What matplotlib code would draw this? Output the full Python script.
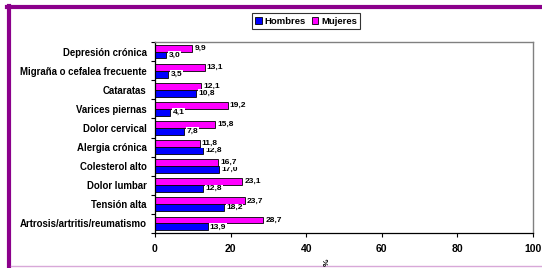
import numpy as np
import matplotlib.pyplot as plt
from matplotlib.lines import Line2D

# categories listed bottom -> top (as drawn on the y axis)
categories = ['Artrosis/artritis/reumatismo', 'Tensión alta', 'Dolor lumbar',
              'Colesterol alto', 'Alergia crónica', 'Dolor cervical',
              'Varices piernas', 'Cataratas', 'Migraña o cefalea frecuente',
              'Depresión crónica']
hombres = [13.9, 18.2, 12.8, 17.0, 12.8, 7.8, 4.1, 10.8, 3.5, 3.0]
mujeres = [28.7, 23.7, 23.1, 16.7, 11.8, 15.8, 19.2, 12.1, 13.1, 9.9]
xticks = [0, 20, 40, 60, 80, 100]

plt.rcParams['font.family'] = ['Liberation Sans', 'DejaVu Sans']
plt.rcParams['font.weight'] = 'bold'

W, H = 542, 268
fig = plt.figure(figsize=(W / 100, H / 100), dpi=100)
ax = fig.add_axes([155 / W, 1 - 233 / H, (533 - 155) / W, (233 - 42) / H])

y = np.arange(len(categories))
bh = 0.36
bars_h = ax.barh(y - bh / 2, hombres, height=bh, color='#0000FF',
                 edgecolor='black', linewidth=0.6, label='Hombres')
bars_m = ax.barh(y + bh / 2, mujeres, height=bh, color='#FF00FF',
                 edgecolor='black', linewidth=0.6, label='Mujeres')

for bars, vals in ((bars_h, hombres), (bars_m, mujeres)):
    for b, v in zip(bars, vals):
        ax.text(v + 0.6, b.get_y() + b.get_height() / 2,
                f'{v:.1f}'.replace('.', ','), va='center', ha='left',
                fontsize=6, fontweight='bold',
                bbox=dict(facecolor='white', edgecolor='none', pad=0.3))

ax.set_xlim(0, 100)
ax.set_ylim(-0.5, len(categories) - 0.5)
ax.set_xticks(xticks)
ax.set_xticklabels([str(t) for t in xticks], fontsize=7.5, fontweight='bold')
ax.tick_params(axis='x', direction='out', length=3, width=0.8, pad=5)

# boundary ticks (major) and category labels (minor)
ax.set_yticks(np.arange(len(categories) + 1) - 0.5)
ax.set_yticklabels([])
ax.tick_params(axis='y', which='major', direction='out', length=3, width=0.8)
ax.set_yticks(y, minor=True)
ax.set_yticklabels(categories, minor=True, fontsize=6.9, fontweight='bold')
ax.tick_params(axis='y', which='minor', length=0, pad=6)

for s in ('top', 'right'):
    ax.spines[s].set_color('#808080')
    ax.spines[s].set_linewidth(1.0)
for s in ('left', 'bottom'):
    ax.spines[s].set_color('black')
    ax.spines[s].set_linewidth(0.9)

fig.text(327 / W, 1 - 262 / H, '%', rotation=90, fontsize=6,
         fontweight='bold', ha='center', va='center')

leg = fig.legend(handles=[bars_h, bars_m], labels=['Hombres', 'Mujeres'],
                 loc='center', bbox_to_anchor=(306 / W, 1 - 21 / H), ncol=2,
                 fontsize=6.8, frameon=True, fancybox=False,
                 handlelength=0.7, handleheight=0.7, handletextpad=0.3,
                 columnspacing=0.6, borderpad=0.35, borderaxespad=0)
leg.get_frame().set_edgecolor('black')
leg.get_frame().set_linewidth(0.8)

# purple page border
fig.add_artist(Line2D([7 / W, 1], [1 - 7 / H, 1 - 7 / H], color='#8B008B',
                      linewidth=3, transform=fig.transFigure))
fig.add_artist(Line2D([9 / W, 9 / W], [1 - 5.5 / H, 0], color='#8B008B',
                      linewidth=3, transform=fig.transFigure))
fig.add_artist(Line2D([11 / W, 1], [1 - 266 / H, 1 - 266 / H], color='#D8A8D8',
                      linewidth=1, transform=fig.transFigure))

fig.savefig('out.png', dpi=100)
